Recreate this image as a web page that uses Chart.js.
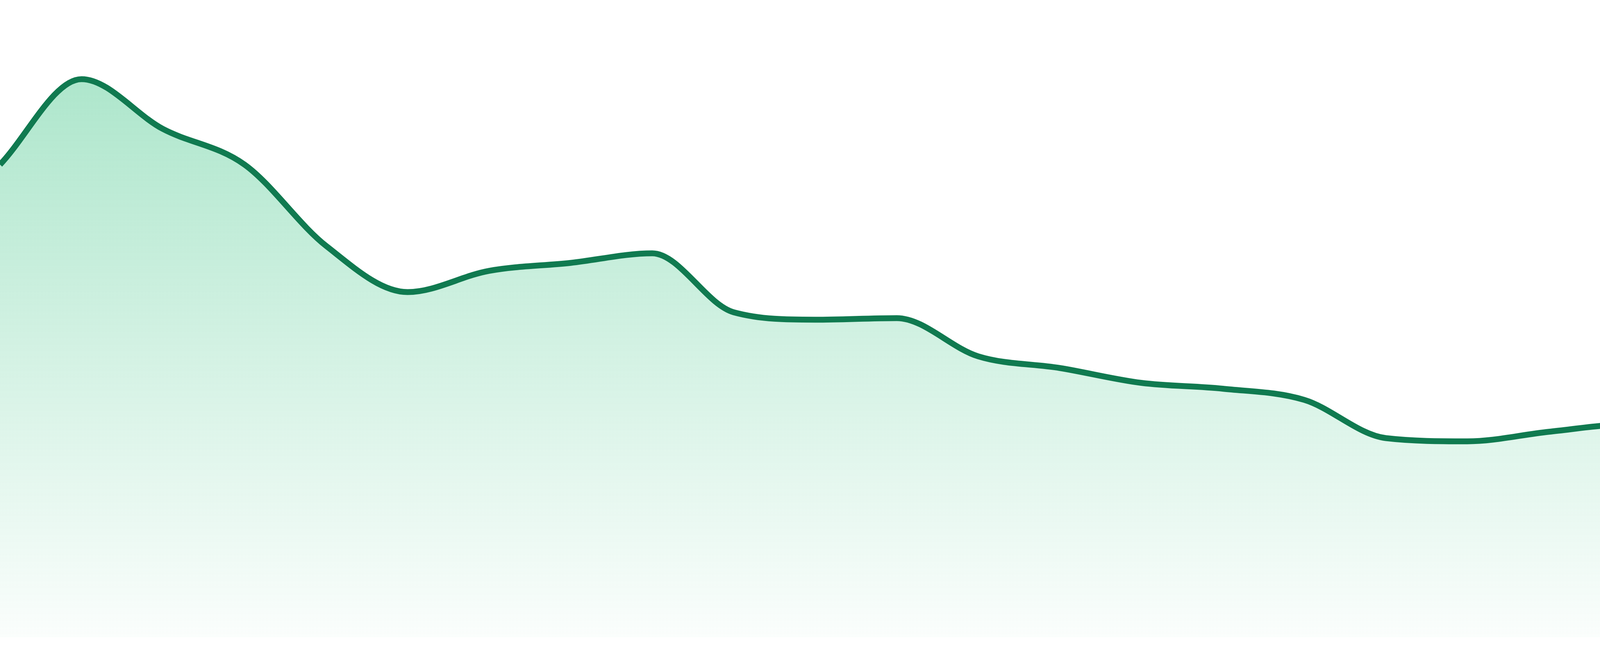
<!DOCTYPE html>
<html>
<head>
<meta charset="utf-8">
<script src="https://cdn.jsdelivr.net/npm/chart.js@4.4.1/dist/chart.umd.min.js"></script>
<style>
  html, body { margin: 0; padding: 0; background: #fff; }
  #wrap { width: 4800px; height: 1680px; position: relative; }
</style>
</head>
<body>
<div id="wrap"><canvas id="chart-trend"></canvas></div>
<script>
// hourly values
const hours = ['00:00','01:00','02:00','03:00','04:00','05:00','06:00','07:00','08:00','09:00','10:00','11:00',
               '12:00','13:00','14:00','15:00','16:00','17:00','18:00','19:00','20:00','21:00','22:00','23:00'];
const values = [89.0, 105.1, 95.7, 89.0, 73.7, 65.0, 69.0, 70.5, 72.3, 61.2, 59.8, 60.1,
                52.9, 50.7, 47.9, 46.8, 44.7, 37.5, 36.9, 38.7, 40.1, 32.1, 30.7, 27.7];
const yMin = 0, yMax = 120;

const fillGradient = ctx => {
  const { chart } = ctx;
  const area = chart.chartArea;
  if (!area) return 'rgba(25,185,110,0.3)';
  const g = chart.ctx.createLinearGradient(0, area.top, 0, area.bottom);
  g.addColorStop(0, 'rgba(25,185,110,0.40)');
  g.addColorStop(1, 'rgba(25,185,110,0.02)');
  return g;
};

new Chart(document.getElementById('chart-trend'), {
  type: 'line',
  data: {
    labels: hours,
    datasets: [{
      data: values,
      borderColor: '#107a50',
      borderWidth: 15,
      backgroundColor: fillGradient,
      fill: 'origin',
      cubicInterpolationMode: 'monotone',
      pointRadius: 0,
      pointHoverRadius: 0
    }]
  },
  options: {
    responsive: true,
    maintainAspectRatio: false,
    devicePixelRatio: 1,
    animation: false,
    layout: { padding: { top: 0, right: 0, bottom: 48, left: 0 } },
    plugins: { legend: { display: false }, tooltip: { enabled: false } },
    scales: {
      x: { display: false, offset: false },
      y: { display: false, min: yMin, max: yMax }
    }
  }
});
</script>
</body>
</html>
